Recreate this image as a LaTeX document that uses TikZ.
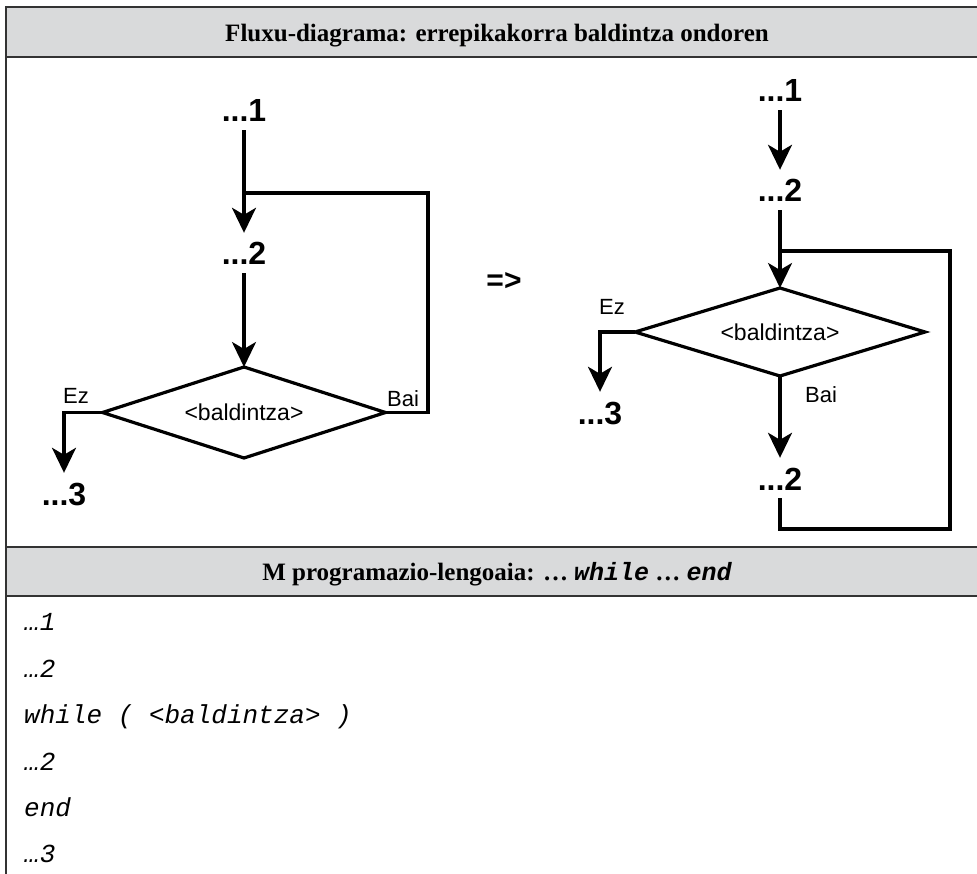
\documentclass[tikz,border=0pt]{standalone}
\usepackage{fontspec}
\setmainfont{Liberation Serif}
\newfontfamily\hsans{Liberation Sans}
\newfontfamily\cmono{Liberation Mono}
\usetikzlibrary{arrows.meta,shapes.geometric}
\definecolor{hdrgray}{HTML}{D9DADB}
\definecolor{rulegray}{HTML}{333333}
\tikzset{
  tablerule/.style={draw=rulegray,line width=1.6pt},
  hdrfill/.style={tablerule,fill=hdrgray},
  hdrtext/.style={anchor=base,inner sep=0pt,font=\fontsize{25}{30}\selectfont\bfseries},
  flowlbl/.style={font=\hsans\bfseries\fontsize{32}{38}\selectfont,inner xsep=2pt,inner ysep=8pt,text height=24pt,text depth=0pt},
  smalllbl/.style={font=\hsans\fontsize{22}{26}\selectfont,inner sep=0pt},
  cond/.style={diamond,aspect=3.1,draw,line width=3.2pt,outer sep=0pt,inner sep=0pt,font=\hsans\fontsize{23}{26}\selectfont},
  flowline/.style={line width=3.2pt,line join=miter},
  flowarr/.style={flowline,-{Stealth[length=25pt,width=24pt,inset=7pt]}},
  codeline/.style={anchor=base west,inner sep=0pt,font=\cmono\itshape\fontsize{26}{30}\selectfont},
}
\begin{document}
\begin{tikzpicture}[x=1pt,y=-1pt]
\useasboundingbox (0,0) rectangle (977,874);
\begin{scope}
\clip (0,0) rectangle (977,874);
% table
\path[hdrfill] (6,7) rectangle (992,57);
\draw[tablerule] (6,57) -- (6,547);
\path[hdrfill] (6,547) rectangle (992,596);
\draw[tablerule] (6,596) -- (6,880);
\end{scope}
\node[hdrtext] (h1) at (497,42) {Fluxu-diagrama: errepikakorra baldintza ondoren};
\node[hdrtext] (h2) at (497,580) {M programazio-lengoaia: … {\cmono\bfseries\itshape while} … {\cmono\bfseries\itshape end}};

% left flowchart
\node[flowlbl] (l1) at (244,110) {...1};
\node[flowlbl] (l2) at (244,253) {...2};
\node[cond,minimum width=283pt,minimum height=91pt] (ld) at (244,412.5) {<baldintza>};
\node[flowlbl] (l3) at (64,493) {...3};
\node[smalllbl] (lez) at (76,396) {Ez};
\node[smalllbl] (lbai) at (403,399) {Bai};
\coordinate (lj) at (244,193);
\coordinate (lc) at (428,193);
\draw[flowarr] (l1.south) -- (l2.north);
\draw[flowarr] (l2.south) -- (ld.north);
\draw[flowline] (ld.east) -| (lc) -- (lj);
\draw[flowarr] (ld.west) -| (l3.north);

% arrow between
\node[font=\hsans\bfseries\fontsize{30}{36}\selectfont,inner sep=0pt] (imp) at (504,281) {=>};

% right flowchart
\node[flowlbl] (r1) at (780,90) {...1};
\node[flowlbl] (r2) at (780,190) {...2};
\node[cond,minimum width=290pt,minimum height=88pt] (rd) at (780,332) {<baldintza>};
\node[flowlbl] (r3) at (600,412) {...3};
\node[flowlbl] (r2b) at (780,478) {...2};
\node[smalllbl] (rez) at (612,307) {Ez};
\node[smalllbl] (rbai) at (821,395) {Bai};
\coordinate (rj) at (780,251);
\coordinate (rtop) at (950,251);
\coordinate (rbot) at (950,529);
\draw[flowarr] (r1.south) -- (r2.north);
\draw[flowarr] (r2.south) -- (rd.north);
\draw[flowarr] (rd.west) -| (r3.north);
\draw[flowarr] (rd.south) -- (r2b.north);
\draw[flowline] (r2b.south) |- (rbot) -- (rtop) -- (rj);

% code
\node[codeline] (c1) at (24,630) {…1};
\node[codeline] (c2) at (24,677) {…2};
\node[codeline] (c3) at (24,723) {while ( <baldintza> )};
\node[codeline] (c4) at (24,770) {…2};
\node[codeline] (c5) at (24,816) {end};
\node[codeline] (c6) at (24,862) {…3};
\end{tikzpicture}
\end{document}
